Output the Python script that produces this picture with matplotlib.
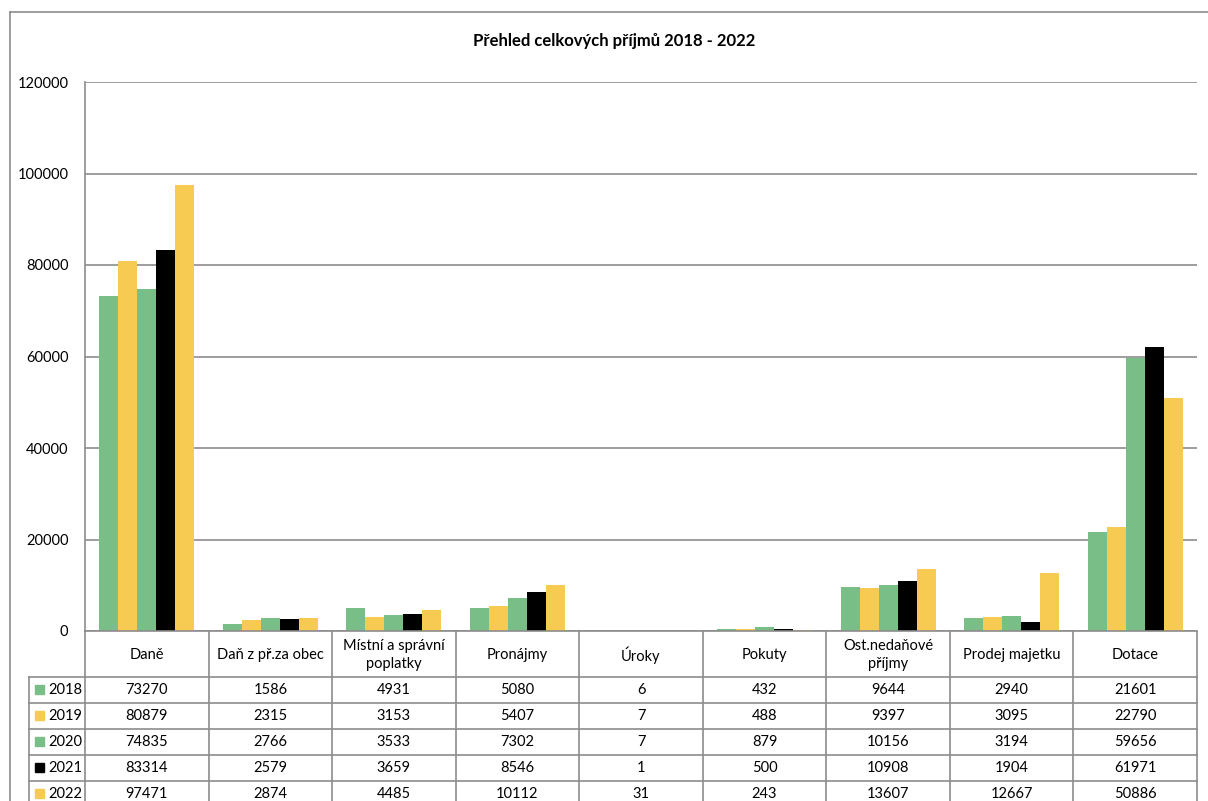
import matplotlib.pyplot as plt
from matplotlib.lines import Line2D
from matplotlib.patches import Rectangle

plt.rcParams['font.family'] = ['Lato', 'DejaVu Sans']

categories = ['Daně', 'Daň z př.za obec', 'Místní a správní\npoplatky', 'Pronájmy', 'Úroky',
              'Pokuty', 'Ost.nedaňové\npříjmy', 'Prodej majetku', 'Dotace']
years = ['2018', '2019', '2020', '2021', '2022']
v2018 = [73270, 1586, 4931, 5080, 6, 432, 9644, 2940, 21601]
v2019 = [80879, 2315, 3153, 5407, 7, 488, 9397, 3095, 22790]
v2020 = [74835, 2766, 3533, 7302, 7, 879, 10156, 3194, 59656]
v2021 = [83314, 2579, 3659, 8546, 1, 500, 10908, 1904, 61971]
v2022 = [97471, 2874, 4485, 10112, 31, 243, 13607, 12667, 50886]
series = [v2018, v2019, v2020, v2021, v2022]
colors = ['#78be86', '#f7ca52', '#78be86', '#000000', '#f7ca52']

W, H = 1208, 801
fig = plt.figure(figsize=(W / 100, H / 100), dpi=100)
grid_c = '#8c8c8c'

# main plot area in pixels: x 85..1197, y 82..631
L, R, T, B = 85, 1197, 82, 631
ax = fig.add_axes([L / W, (H - B) / H, (R - L) / W, (B - T) / H])
n = len(categories)
bw = 0.154
for i, (vals, c) in enumerate(zip(series, colors)):
    xs = [k + (i - 2) * bw for k in range(n)]
    ax.bar(xs, vals, width=bw, color=c, edgecolor='none', zorder=3)
ax.set_xlim(-0.5, n - 0.5)
ax.set_ylim(0, 120000)
ax.set_yticks(range(0, 120001, 20000))
ax.set_yticklabels([str(v) for v in range(0, 120001, 20000)], fontsize=10.5)
ax.tick_params(axis='y', length=0, pad=12)
ax.set_xticks([])
ax.yaxis.grid(True, color=grid_c, linewidth=1.2, zorder=0)
for s in ['top', 'right', 'bottom']:
    ax.spines[s].set_visible(False)
ax.spines['left'].set_color(grid_c)
ax.spines['left'].set_linewidth(1.2)
ax.axhline(0, color=grid_c, linewidth=1.2, zorder=4, clip_on=False)

# data table below, pixel coordinates
tab = fig.add_axes([0, 0, 1, (H - B) / H])
tab.set_xlim(0, W)
tab.set_ylim(H, B)
tab.axis('off')
cw = (R - L) / n
lw = 1.2
row_h = 26
hdr_bot = 677
# header row
for k in range(n + 1):
    x = L + k * cw
    tab.add_line(Line2D([x, x], [B, H], color=grid_c, lw=lw))
for k, cat in enumerate(categories):
    tab.text(L + (k + 0.5) * cw, (B + hdr_bot) / 2 + 1, cat, ha='center', va='center',
             fontsize=10.5, linespacing=1.3)
tab.add_line(Line2D([29, 29], [hdr_bot, H], color=grid_c, lw=lw))
for r in range(len(years)):
    y = hdr_bot + r * row_h
    tab.add_line(Line2D([29, R], [y, y], color=grid_c, lw=lw))
for r, (yr, vals, c) in enumerate(zip(years, series, colors)):
    yc = hdr_bot + (r + 0.5) * row_h
    tab.add_patch(Rectangle((35, yc - 5), 9, 9, color=c))
    tab.text(48, yc, yr, ha='left', va='center', fontsize=10.5)
    for k, v in enumerate(vals):
        tab.text(L + (k + 0.5) * cw, yc, str(v), ha='center', va='center', fontsize=10.5)

# outer chart border and title
fig.add_artist(Line2D([10 / W, 1], [1 - 12 / H, 1 - 12 / H], color=grid_c, lw=lw))
fig.add_artist(Line2D([10 / W, 10 / W], [0, 1 - 12 / H], color=grid_c, lw=lw))
fig.text(614 / W, 1 - 41 / H, 'Přehled celkových příjmů 2018 - 2022', ha='center', va='center',
         fontsize=12, fontweight='bold')

fig.savefig('out.png', dpi=100)
